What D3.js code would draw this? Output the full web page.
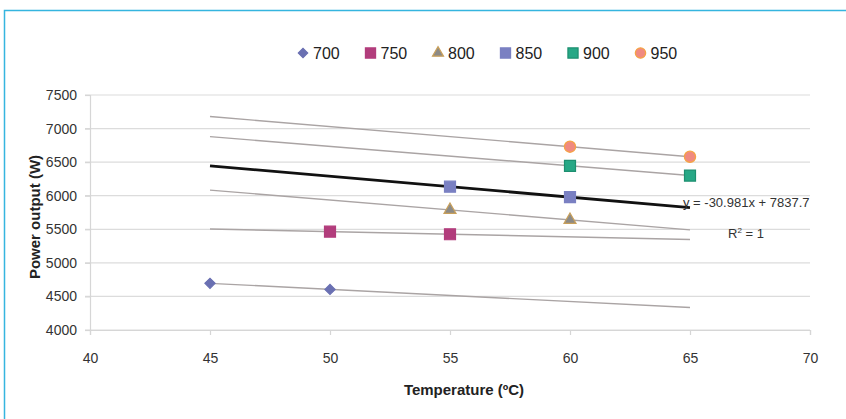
<!DOCTYPE html>
<html>
<head>
<meta charset="utf-8">
<script src="https://cdn.jsdelivr.net/npm/d3@7"></script>
<style>
    body { margin: 0; background: #fff; }
    svg text { font-family: "Liberation Sans", Arial, sans-serif; }
</style>
</head>
<body>
<svg id="chart" width="846" height="419"></svg>
<script>
// data
const seriesNames = ["700", "750", "800", "850", "900", "950"];
const seriesTemps = [[45, 50], [50, 55], [55, 60], [55, 60], [60, 65], [60, 65]];
const seriesPower = [[4695, 4605], [5465, 5426], [5788, 5640], [6134, 5979], [6445, 6300], [6730, 6580]];
const trendRange = [45, 65];
const xTicks = [40, 45, 50, 55, 60, 65, 70];
const yTicks = [4000, 4500, 5000, 5500, 6000, 6500, 7000, 7500];
const equationText = "y = -30.981x + 7837.7";
const labelledSeries = "850";

const colors = ["#6a70b2", "#b23d7c", "#8c8a86", "#7a80c2", "#27a886", "#f08a80"];
const strokes = ["#6a70b2", "#b23d7c", "#c9a05a", "#7a80c2", "#1d8f70", "#f5a442"];
const symbols = [d3.symbolSquare, d3.symbolSquare, d3.symbolTriangle, d3.symbolSquare, d3.symbolSquare, d3.symbolCircle];
const sizes = [52, 121, 62, 121, 121, 100];
const rotate = [45, 0, 0, 0, 0, 0];

const svg = d3.select("#chart");

// frame (top + left only)
svg.append("path")
    .attr("d", "M4.5,419 L4.5,10.5 L846,10.5")
    .attr("fill", "none")
    .attr("stroke", "#35b5df")
    .attr("stroke-width", 1.5);

const x = d3.scaleLinear().domain([40, 70]).range([90, 810]);
const y = d3.scaleLinear().domain([4000, 7500]).range([330, 95]);

// gridlines
svg.append("g")
    .selectAll("line")
    .data(yTicks)
    .join("line")
    .attr("x1", 85).attr("x2", 810)
    .attr("y1", d => y(d)).attr("y2", d => y(d))
    .attr("stroke", "#dcdcdc")
    .attr("stroke-width", 1.2);

// axes
const xAxis = svg.append("g")
    .attr("transform", "translate(0,330)")
    .call(d3.axisBottom(x).tickValues(xTicks).tickSize(5).tickPadding(18).tickFormat(d3.format("d")));
const yAxis = svg.append("g")
    .attr("transform", "translate(90,0)")
    .call(d3.axisLeft(y).tickValues(yTicks).tickSize(5).tickPadding(8).tickFormat(d3.format("d")));

[xAxis, yAxis].forEach(a => {
    a.select(".domain").attr("stroke", "#d6d6d6").attr("stroke-width", 1.2);
    a.selectAll(".tick line").attr("stroke", "#d6d6d6").attr("stroke-width", 1.2);
    a.selectAll(".tick text")
        .attr("fill", "#333")
        .style("font-size", "14px")
        .style("font-family", "'Liberation Sans', Arial, sans-serif");
});

// trendlines (least squares over each series)
function fit(xs, ys) {
    const mx = d3.mean(xs), my = d3.mean(ys);
    let num = 0, den = 0;
    xs.forEach((v, i) => { num += (v - mx) * (ys[i] - my); den += (v - mx) * (v - mx); });
    const slope = num / den;
    return { slope: slope, intercept: my - slope * mx };
}

const trends = svg.append("g");
seriesNames.forEach((name, i) => {
    const f = fit(seriesTemps[i], seriesPower[i]);
    const bold = name === labelledSeries;
    trends.append("line")
        .attr("x1", x(trendRange[0]))
        .attr("y1", y(f.slope * trendRange[0] + f.intercept))
        .attr("x2", x(trendRange[1]))
        .attr("y2", y(f.slope * trendRange[1] + f.intercept))
        .attr("stroke", bold ? "#111" : "#aaa4a4")
        .attr("stroke-width", bold ? 2.8 : 1.4);
});

// markers
const marks = svg.append("g");
seriesNames.forEach((name, i) => {
    marks.selectAll(null)
        .data(seriesTemps[i].map((t, j) => [t, seriesPower[i][j]]))
        .join("path")
        .attr("d", d3.symbol().type(symbols[i]).size(sizes[i]))
        .attr("transform", d => `translate(${x(d[0])},${y(d[1])}) rotate(${rotate[i]})`)
        .attr("fill", colors[i])
        .attr("stroke", strokes[i])
        .attr("stroke-width", 1.2);
});

// equation labels
svg.append("text")
    .attr("x", 683).attr("y", 207)
    .attr("fill", "#333")
    .style("font-size", "13px")
    .text(equationText);
const r2 = svg.append("text")
    .attr("x", 728).attr("y", 238)
    .attr("fill", "#333")
    .style("font-size", "13px");
r2.append("tspan").text("R");
r2.append("tspan").attr("dy", -5).style("font-size", "8px").text("2");
r2.append("tspan").attr("dy", 5).text(" = 1");

// axis titles
svg.append("text")
    .attr("x", 464).attr("y", 395)
    .attr("text-anchor", "middle")
    .attr("fill", "#222")
    .style("font-size", "15px")
    .style("font-weight", "bold")
    .text("Temperature (ºC)");
svg.append("text")
    .attr("transform", "translate(40,217) rotate(-90)")
    .attr("text-anchor", "middle")
    .attr("fill", "#222")
    .style("font-size", "15px")
    .style("font-weight", "bold")
    .text("Power output (W)");

// legend
const legend = svg.append("g").attr("transform", "translate(303,53)");
seriesNames.forEach((name, i) => {
    const g = legend.append("g").attr("transform", `translate(${i * 67.5},0)`);
    g.append("path")
        .attr("d", d3.symbol().type(symbols[i]).size(sizes[i] * 0.85))
        .attr("transform", `rotate(${rotate[i]})`)
        .attr("fill", colors[i])
        .attr("stroke", strokes[i])
        .attr("stroke-width", 1.2);
    g.append("text")
        .attr("x", 10).attr("y", 6)
        .attr("fill", "#222")
        .style("font-size", "16px")
        .text(name);
});
</script>
</body>
</html>
